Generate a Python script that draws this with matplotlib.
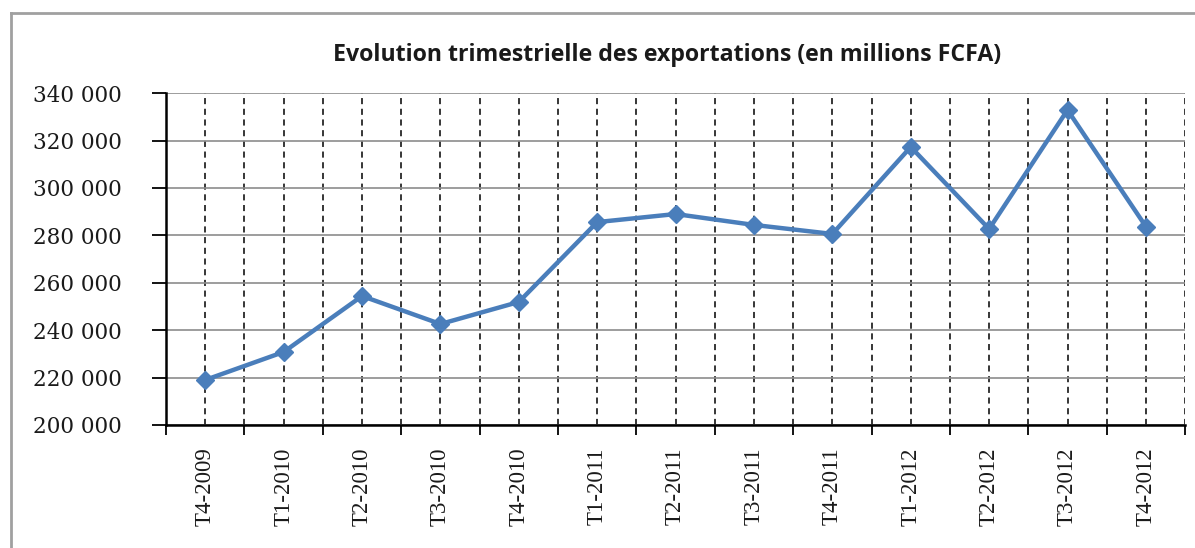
import numpy as np
import matplotlib.pyplot as plt
from matplotlib.lines import Line2D
from matplotlib.ticker import FuncFormatter, FixedLocator

# Données
trimestres = ["T4-2009", "T1-2010", "T2-2010", "T3-2010", "T4-2010", "T1-2011",
              "T2-2011", "T3-2011", "T4-2011", "T1-2012", "T2-2012", "T3-2012", "T4-2012"]
exportations = [219000, 230800, 254400, 242600, 251900, 285600,
                289000, 284400, 280600, 317300, 282700, 332900, 283700]
y_ticks = [200000, 220000, 240000, 260000, 280000, 300000, 320000, 340000]

fig = plt.figure(figsize=(11.95, 5.48), dpi=100)
ax = fig.add_axes([0.139, 0.2245, 0.8527, 0.6055])

x = np.arange(len(trimestres))
ax.plot(x, exportations, color='#4a7ebb', linewidth=3.2, marker='D', markersize=9.5,
        zorder=5)

ax.set_xlim(-0.5, len(trimestres) - 0.5)
ax.set_ylim(200000, 340000)

# axe y
ax.set_yticks(y_ticks)
ax.yaxis.set_major_formatter(FuncFormatter(lambda v, p: f"{int(v):,}".replace(",", " ")))
ax.grid(axis='y', color='#8c8c8c', linewidth=1.2, linestyle='-')

# axe x : étiquettes au centre, graduations entre les catégories
ax.set_xticks(x)
ax.set_xticklabels(trimestres, rotation=90)
ax.xaxis.set_minor_locator(FixedLocator(np.arange(-0.5, len(trimestres), 1.0)))
ax.grid(axis='x', which='both', color='black', linewidth=1.1, linestyle=(0, (4, 3)))
ax.set_axisbelow(True)

ax.tick_params(axis='x', which='major', length=0, pad=16)
ax.tick_params(axis='x', which='minor', length=7, width=1.3, direction='out')
ax.tick_params(axis='y', length=10, width=1.3, pad=22)
for lab in ax.get_xticklabels():
    lab.set_family('Liberation Serif')
    lab.set_fontsize(16.5)
    lab.set_color('#1a1a1a')
for lab in ax.get_yticklabels():
    lab.set_family('DejaVu Serif')
    lab.set_fontsize(15.5)
    lab.set_color('#1a1a1a')

for s in ['top', 'right']:
    ax.spines[s].set_visible(False)
for s in ['left', 'bottom']:
    ax.spines[s].set_linewidth(1.8)
    ax.spines[s].set_color('black')

fig.text(0.558, 0.9, "Evolution trimestrielle des exportations (en millions FCFA)",
         ha='center', va='center', fontsize=16.7, fontweight='bold', family='Open Sans',
         color='#1a1a1a')

# cadre extérieur
fig.add_artist(Line2D([11 / 1195, 11 / 1195], [0, 1 - 13 / 548], color='#a0a0a0', linewidth=2))
fig.add_artist(Line2D([11 / 1195, 1], [1 - 13 / 548, 1 - 13 / 548], color='#a0a0a0', linewidth=2))

fig.savefig("out.png", dpi=100)
